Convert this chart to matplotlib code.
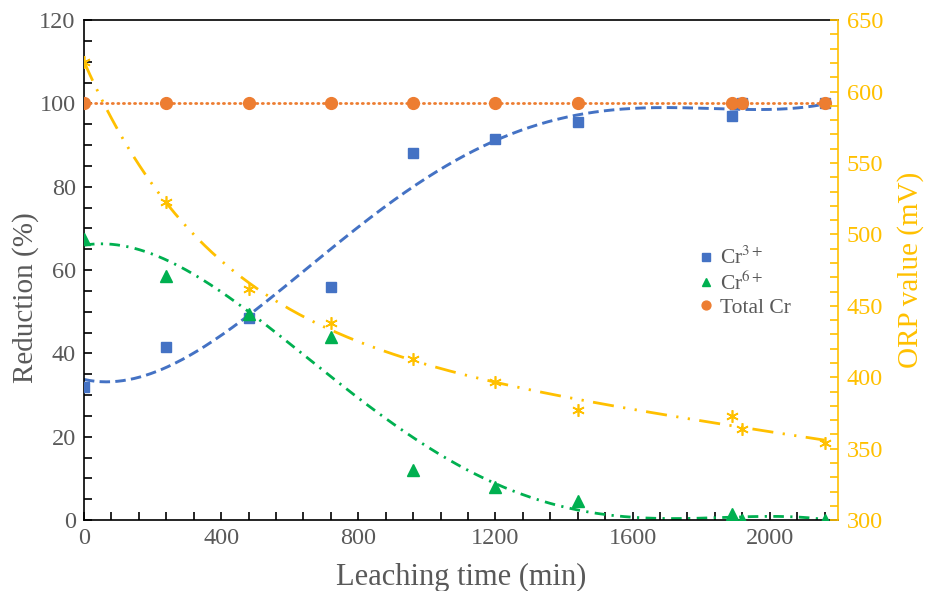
import numpy as np
import matplotlib.pyplot as plt
from matplotlib.ticker import MultipleLocator

# data
time = [0, 240, 480, 720, 960, 1200, 1440, 1890, 1920, 2160]
cr3 = [32, 41.5, 48.5, 56, 88, 91.5, 95.5, 97, 100, 100]
cr6 = [67.5, 58.5, 49.5, 44, 12, 8, 4.5, 1.5, 0, 0]
total_cr = [100, 100, 100, 100, 100, 100, 100, 100, 100, 100]
orp = [621, 523, 462, 438, 413, 397, 377, 373, 364, 354]

blue = '#4472C4'
green = '#00B050'
orange = '#ED7D31'
yellow = '#FFC000'
grey = '#595959'

plt.rcParams['font.family'] = ['Liberation Serif', 'DejaVu Serif']
plt.rcParams['mathtext.fontset'] = 'stix'

fig = plt.figure(figsize=(9.29, 5.91), dpi=100)
ax = fig.add_axes([0.0904, 0.120, 0.812, 0.846])
ax2 = ax.twinx()

t = np.array(time, dtype=float)
tt = np.linspace(0, 2160, 400)

# trendlines fitted to the measured points
p3 = np.polyfit(t, cr3, 4)
p6 = np.polyfit(t, cr6, 4)

# ORP: exponential decay plus linear drift, least squares over decay rate
best = None
for b in np.linspace(0.0005, 0.02, 400):
    A = np.column_stack([np.ones_like(t), np.exp(-b * t), t])
    coef, res, _, _ = np.linalg.lstsq(A, np.array(orp, float), rcond=None)
    err = np.sum((A @ coef - orp) ** 2)
    if best is None or err < best[0]:
        best = (err, b, coef)
_, b_orp, c_orp = best
orp_fit = c_orp[0] + c_orp[1] * np.exp(-b_orp * tt) + c_orp[2] * tt

ax.plot(tt, np.polyval(p3, tt), color=blue, lw=2.1, dashes=(3.6, 1.8))
ax.plot(tt, np.polyval(p6, tt), color=green, lw=2.0,
        dashes=(3.8, 2.3, 0.8, 2.3))
ax.plot(t, total_cr, color=orange, lw=2.0, linestyle=(0, (0.4, 1.6)),
        dash_capstyle='round')
ax2.plot(tt, orp_fit, color=yellow, lw=2.0,
         dashes=(7.6, 3.4, 0.8, 3.4, 0.8, 3.4))

ax.plot(t, cr3, 's', color=blue, ms=7.5, label='Cr$^{3+}$', zorder=5)
ax.plot(t, cr6, '^', color=green, ms=8.5, label='Cr$^{6+}$', zorder=5)
ax.plot(t, total_cr, 'o', color=orange, ms=8.5, label='Total Cr', zorder=5)
ax2.plot(t, orp, marker=(6, 2, 0), ls='none', color=yellow, ms=9, mew=1.2)

ax.set_xlim(0, 2200)
ax.set_ylim(0, 120)
ax2.set_ylim(300, 650)
ax.xaxis.set_major_locator(MultipleLocator(400))
ax.xaxis.set_minor_locator(MultipleLocator(80))
ax.yaxis.set_major_locator(MultipleLocator(20))
ax.yaxis.set_minor_locator(MultipleLocator(5))
ax2.yaxis.set_major_locator(MultipleLocator(50))
ax2.yaxis.set_minor_locator(MultipleLocator(10))

ax.tick_params(which='both', direction='in', length=6, width=1.2,
               labelsize=17.5, labelcolor=grey, pad=6)
ax.tick_params(axis='x', which='both', top=False)
ax2.tick_params(which='both', direction='in', length=6, width=1.2,
                color=yellow, labelsize=17.5, labelcolor=yellow, pad=6)

for s in ['left', 'bottom', 'top']:
    ax.spines[s].set_linewidth(1.2)
ax.spines['right'].set_visible(False)
ax2.spines['right'].set_color(yellow)
ax2.spines['right'].set_linewidth(1.2)
for s in ['left', 'bottom', 'top']:
    ax2.spines[s].set_visible(False)

ax.set_xlabel('Leaching time (min)', fontsize=22, color=grey, labelpad=10)
ax.set_ylabel('Reduction (%)', fontsize=21, color=grey)
ax.yaxis.set_label_coords(-0.060, 0.444)
ax2.set_ylabel('ORP value (mV)', fontsize=21, color=yellow, labelpad=10)

ax.legend(loc='upper left', bbox_to_anchor=(0.782, 0.585), frameon=False,
          fontsize=15.5, handletextpad=0.05, labelspacing=0.12, markerscale=0.75,
          handlelength=1.2, labelcolor=grey)

fig.savefig('out.png', dpi=100)
